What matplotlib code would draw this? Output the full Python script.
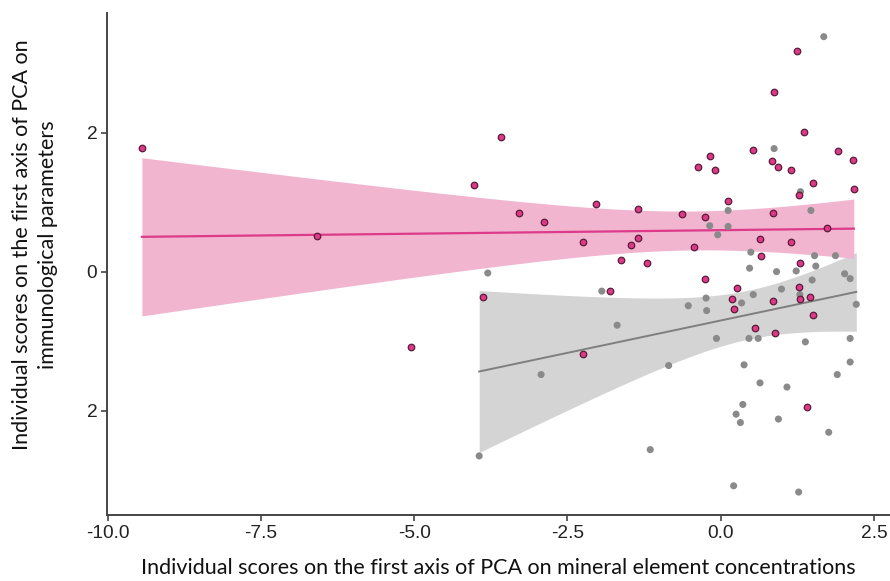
import numpy as np
import matplotlib.pyplot as plt

# scores: pink group
pink_x = [-9.44, -6.59, -5.05, -3.88, -4.03, -3.58, -3.29, -2.88, -2.24, -2.24,
          -2.04, -1.80, -1.62, -1.47, -1.35, -1.35, -1.20, -0.64, -0.43, -0.37,
          -0.26, -0.25, -0.18, -0.09, 0.12, 0.19, 0.21, 0.26, 0.53, 0.56,
          0.64, 0.66, 0.83, 0.85, 0.85, 0.87, 0.88, 0.93, 1.14, 1.15,
          1.25, 1.27, 1.28, 1.30, 1.30, 1.36, 1.40, 1.46, 1.50, 1.51,
          1.74, 1.92, 2.16, 2.17]
pink_y = [1.78, 0.52, -1.09, -0.36, 1.24, 1.93, 0.84, 0.72, 0.42, -1.19,
          0.97, -0.28, 0.17, 0.38, 0.48, 0.90, 0.13, 0.83, 0.36, 1.51,
          0.79, -0.10, 1.66, 1.46, 1.01, -0.39, -0.53, -0.24, 1.75, -0.81,
          0.47, 0.23, 1.59, 0.85, -0.42, 2.58, -0.88, 1.51, 0.42, 1.46,
          3.18, 1.10, -0.22, -0.39, 0.13, 2.01, -1.94, -0.37, 1.27, -0.63,
          0.63, 1.74, 1.61, 1.19]

# gray group
gray_x = [1.68, 0.87, 1.30, 0.12, 1.47, -0.18, 0.12, -0.05, 0.49, 1.53,
          1.87, 1.55, 0.47, 0.91, 1.23, -3.80, 1.49, 2.02, 2.11, 0.99,
          0.53, 1.29, -1.94, -0.24, 0.34, -0.53, 2.21, -0.23, -1.69, -0.07,
          0.46, 0.61, 1.38, 2.11, 2.11, 0.38, -0.85, -2.93, 1.90, 0.64,
          1.08, 0.36, 0.25, 0.32, 0.94, 1.76, -1.15, -3.94, 0.21, 1.27]
gray_y = [3.38, 1.77, 1.15, 0.88, 0.88, 0.66, 0.65, 0.53, 0.28, 0.23,
          0.23, 0.08, 0.05, 0.00, 0.01, -0.02, -0.12, -0.03, -0.10, -0.25,
          -0.33, -0.33, -0.28, -0.38, -0.45, -0.49, -0.47, -0.56, -0.77, -0.96,
          -0.96, -0.96, -1.01, -0.96, -1.30, -1.34, -1.35, -1.48, -1.48, -1.60,
          -1.66, -1.91, -2.05, -2.17, -2.12, -2.31, -2.56, -2.65, -3.08, -3.17]

xticks = [-10.0, -7.5, -5.0, -2.5, 0.0, 2.5]
yticks = [2, 0, -2]
ytick_labels = ['2', '0', '2']

T95 = 2.01  # t quantile for ~50 df


def fit_band(x, y):
    x = np.asarray(x)
    y = np.asarray(y)
    n = len(x)
    slope, icpt = np.polyfit(x, y, 1)
    xs = np.linspace(x.min(), x.max(), 200)
    yhat = icpt + slope * xs
    resid = y - (icpt + slope * x)
    s = np.sqrt(np.sum(resid ** 2) / (n - 2))
    xm = x.mean()
    se = s * np.sqrt(1.0 / n + (xs - xm) ** 2 / np.sum((x - xm) ** 2))
    return xs, yhat, yhat - T95 * se, yhat + T95 * se


fig = plt.figure(figsize=(8.9, 5.81), dpi=100)
ax = fig.add_axes([0.1202, 0.1136, 0.8798, 0.864])

xs, yh, lo, hi = fit_band(gray_x, gray_y)
ax.fill_between(xs, lo, hi, color='#d4d4d4', lw=0, zorder=1)
ax.plot(xs, yh, color='#7f7f7f', lw=1.4, zorder=2)

xs, yh, lo, hi = fit_band(pink_x, pink_y)
ax.fill_between(xs, lo, hi, color='#f1b5d0', lw=0, zorder=1)
ax.plot(xs, yh, color='#dd3a8a', lw=1.6, zorder=2)

ax.scatter(gray_x, gray_y, s=26, color='#8a8a8a', edgecolors='none', zorder=3)
ax.scatter(pink_x, pink_y, s=22, color='#dc3a86', edgecolors='#5a1a3a',
           linewidths=0.9, zorder=4)

ax.set_xlim(-10.01, 2.76)
ax.set_ylim(-3.50, 3.72)
ax.set_xticks(xticks)
ax.set_xticklabels([f'{v:.1f}' for v in xticks])
ax.set_yticks(yticks)
ax.set_yticklabels(ytick_labels)

for side in ['top', 'right']:
    ax.spines[side].set_visible(False)
for side in ['left', 'bottom']:
    ax.spines[side].set_color('#444444')
    ax.spines[side].set_linewidth(1.4)
ax.tick_params(length=4, width=1.2, color='#444444', labelsize=13.8,
               labelcolor='#222222', pad=3)
for lab in ax.get_xticklabels() + ax.get_yticklabels():
    lab.set_family('Liberation Sans')

ax.set_xlabel('Individual scores on the first axis of PCA on mineral element concentrations',
              family='Lato', fontsize=15.5, color='#111111', labelpad=12)
ax.set_ylabel('Individual scores on the first axis of PCA on\nimmunological parameters',
              family='Lato', fontsize=15.5, color='#111111',
              linespacing=1.4)
ax.yaxis.set_label_coords(-0.062, 0.538)

fig.savefig('out.png', dpi=100)
